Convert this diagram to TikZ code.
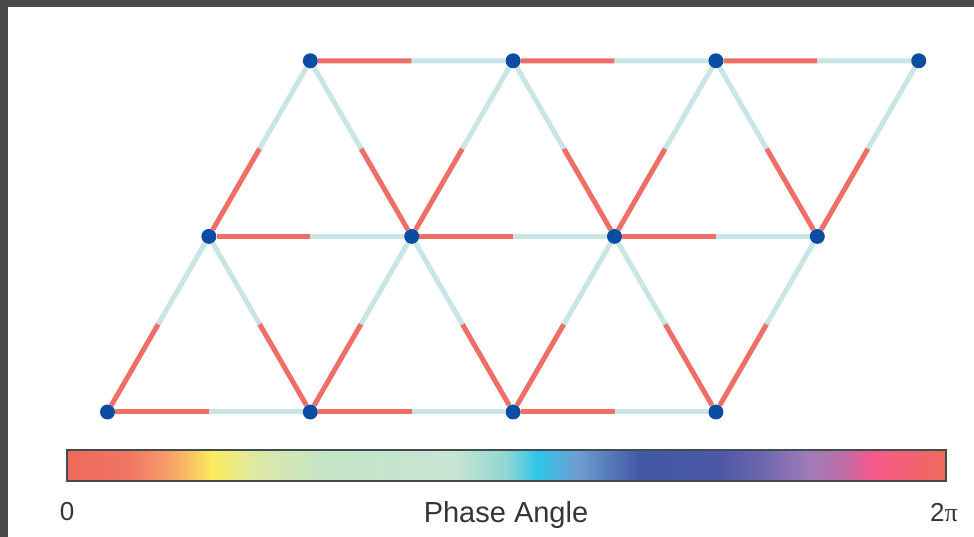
\documentclass[tikz,border=0pt]{standalone}
\usepackage{fontspec}
\setmainfont{Liberation Sans}
\newfontfamily\pifont{Liberation Serif}
\usetikzlibrary{calc,backgrounds}

% one bond: red half at the first node, light half at the second
\newcommand{\bond}[2]{%
    \draw[redBond] (#1) -- ($(#1)!0.5!(#2)$);
    \draw[lightBond] ($(#1)!0.5!(#2)$) -- (#2);}

\begin{document}
\begin{tikzpicture}[x=1pt, y=1pt,
    site/.style={circle, fill=siteColor, minimum size=15pt, inner sep=0pt},
    redBond/.style={draw=bondRed, line width=5pt},
    lightBond/.style={draw=bondLight, line width=5pt},
    label/.style={text=labelGray, inner sep=0pt}]
    % Palette
    \definecolor{frameGray}{HTML}{4A4A4C}
    \definecolor{siteColor}{HTML}{0B4DA2}
    \definecolor{bondRed}{HTML}{EE6F66}
    \definecolor{bondLight}{HTML}{C8E6E5}
    \definecolor{labelGray}{HTML}{353535}
    \definecolor{barEdge}{HTML}{3E4E4E}
    \definecolor{cA}{HTML}{EE695D}
    \definecolor{cB}{HTML}{F17563}
    \definecolor{cC}{HTML}{F7A46A}
    \definecolor{cD}{HTML}{FCEB5C}
    \definecolor{cE}{HTML}{E0E8A2}
    \definecolor{cF}{HTML}{C4E5C6}
    \definecolor{cG}{HTML}{C8E4D4}
    \definecolor{cH}{HTML}{8FD6D2}
    \definecolor{cI}{HTML}{2EC4EA}
    \definecolor{cJ}{HTML}{6E9FD0}
    \definecolor{cK}{HTML}{4258A6}
    \definecolor{cL}{HTML}{4B58A6}
    \definecolor{cM}{HTML}{6E65AE}
    \definecolor{cN}{HTML}{A07DB8}
    \definecolor{cO}{HTML}{C06CA6}
    \definecolor{cP}{HTML}{F55A8C}
    \definecolor{cQ}{HTML}{EF6A5A}

    \useasboundingbox (0,0) rectangle (974,537);

    % --- Sites ---
    \node[site] (b0) at (107.5,125) {};
    \node[site] (b1) at (310.3,125) {};
    \node[site] (b2) at (513.1,125) {};
    \node[site] (b3) at (715.9,125) {};

    \node[site] (m0) at (208.9,300.6) {};
    \node[site] (m1) at (411.7,300.6) {};
    \node[site] (m2) at (614.5,300.6) {};
    \node[site] (m3) at (817.3,300.6) {};

    \node[site] (t0) at (310.3,476.2) {};
    \node[site] (t1) at (513.1,476.2) {};
    \node[site] (t2) at (715.9,476.2) {};
    \node[site] (t3) at (918.7,476.2) {};

    \begin{scope}[on background layer]
        % --- Frame ---
        \fill[frameGray] (0,0) rectangle (974,537);
        \fill[white] (8,0) rectangle (974,530);

        % --- Bonds ---
        % rows
        \bond{b0}{b1} \bond{b1}{b2} \bond{b2}{b3}
        \bond{m0}{m1} \bond{m1}{m2} \bond{m2}{m3}
        \bond{t0}{t1} \bond{t1}{t2} \bond{t2}{t3}
        % lower diagonals
        \bond{b0}{m0} \bond{b1}{m0} \bond{b1}{m1} \bond{b2}{m1}
        \bond{b2}{m2} \bond{b3}{m2} \bond{b3}{m3}
        % upper diagonals
        \bond{m0}{t0} \bond{m1}{t0} \bond{m1}{t1} \bond{m2}{t1}
        \bond{m2}{t2} \bond{m3}{t2} \bond{m3}{t3}
    \end{scope}

    % --- Colour bar ---
    \shade[left color=cA, right color=cB] (67,56) rectangle (129,87);
    \shade[left color=cB, right color=cC] (128.5,56) rectangle (173,87);
    \shade[left color=cC, right color=cD] (172.5,56) rectangle (212.5,87);
    \shade[left color=cD, right color=cE] (212,56) rectangle (252,87);
    \shade[left color=cE, right color=cF] (251.6,56) rectangle (322.5,87);
    \shade[left color=cF, right color=cG] (322,56) rectangle (454.5,87);
    \shade[left color=cG, right color=cH] (454,56) rectangle (507,87);
    \shade[left color=cH, right color=cI] (506.5,56) rectangle (537.8,87);
    \shade[left color=cI, right color=cJ] (537.3,56) rectangle (577.5,87);
    \shade[left color=cJ, right color=cK] (577,56) rectangle (638.9,87);
    \shade[left color=cK, right color=cL] (638.4,56) rectangle (718,87);
    \shade[left color=cL, right color=cM] (717.5,56) rectangle (761.9,87);
    \shade[left color=cM, right color=cN] (761.4,56) rectangle (810.3,87);
    \shade[left color=cN, right color=cO] (809.8,56) rectangle (845.5,87);
    \shade[left color=cO, right color=cP] (845,56) rectangle (871.5,87);
    \shade[left color=cP, right color=cQ] (871,56) rectangle (946,87);
    \draw[barEdge, line width=1.3pt] (67,56) rectangle (946,87);

    % --- Labels ---
    \node[label, font=\fontsize{26}{30}\selectfont] (zero) at (67,25) {0};
    \node[label, font=\fontsize{29}{33}\selectfont, anchor=base] (phase) at (506,14) {Phase Angle};
    \node[label, font=\fontsize{26}{30}\selectfont, anchor=base] (twopi) at (944,15) {2{\pifont π}};

\end{tikzpicture}
\end{document}
